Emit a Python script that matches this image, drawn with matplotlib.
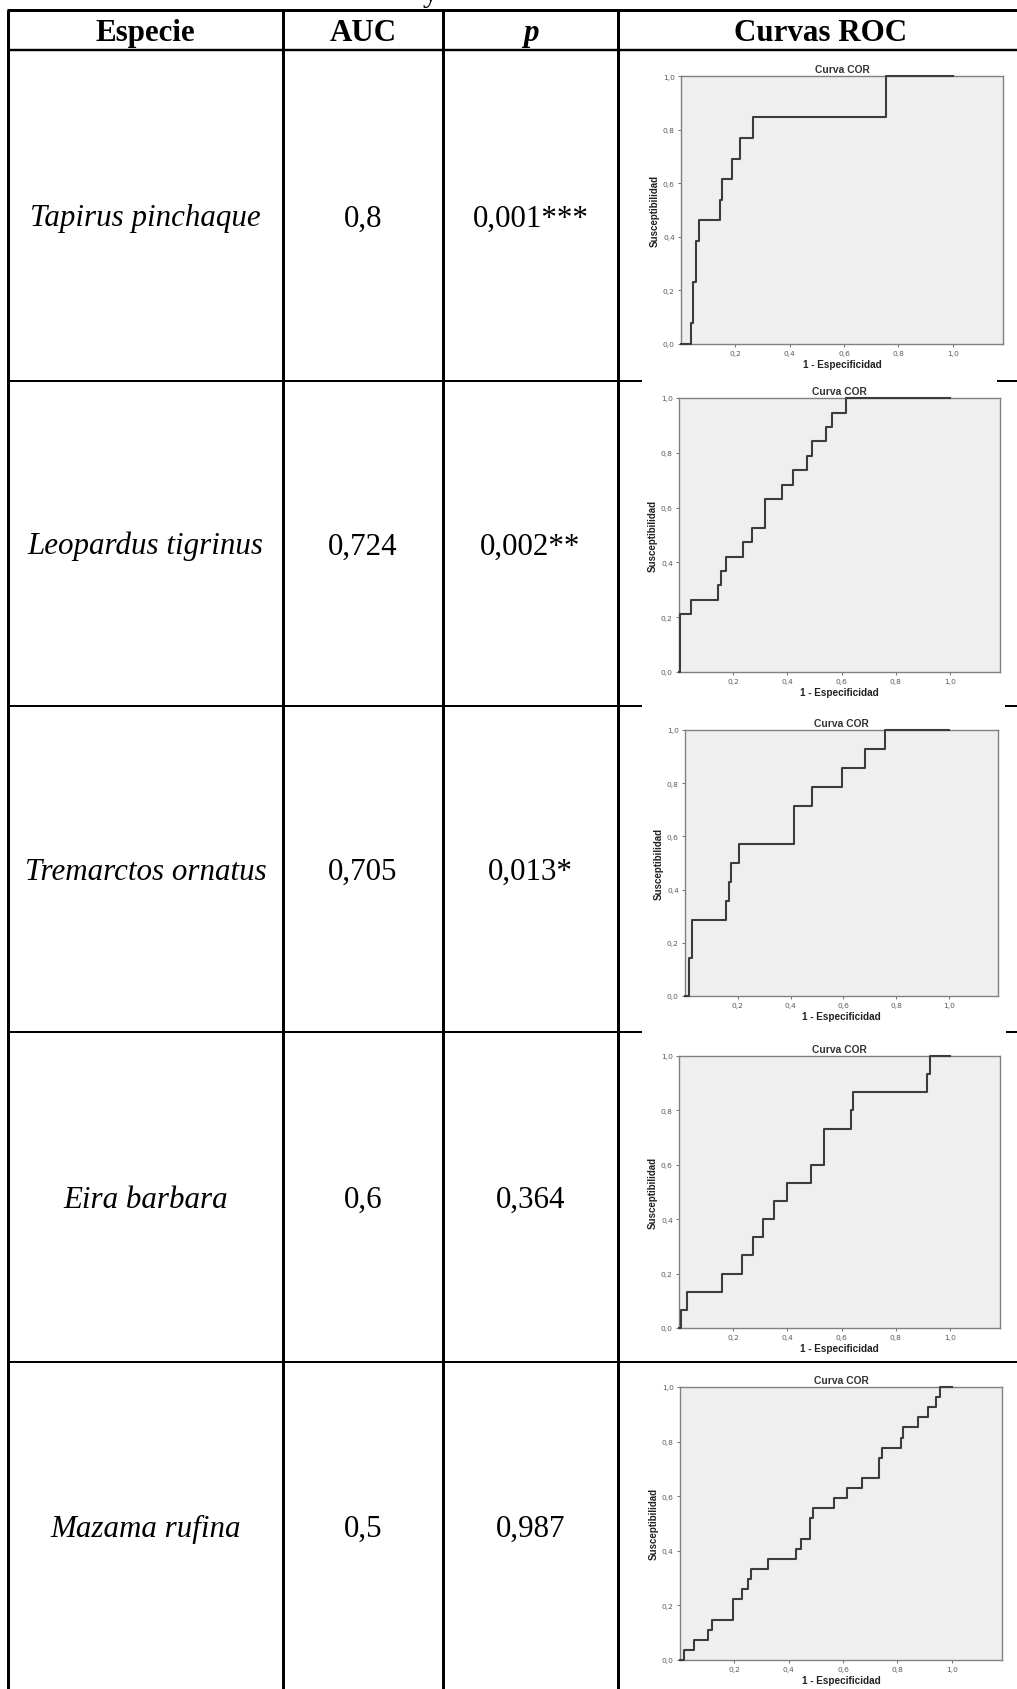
import matplotlib
matplotlib.use("Agg")
import matplotlib.pyplot as plt
from matplotlib.patches import Rectangle
from matplotlib.ticker import FuncFormatter

W, H = 1017, 1690
DPI = 100
PT = 72.0 / DPI  # pixels -> points

#  Table content
headers = ["Especie", "AUC", "p", "Curvas ROC"]
species = ["Tapirus pinchaque", "Leopardus tigrinus", "Tremarctos ornatus",
           "Eira barbara", "Mazama rufina"]
auc_values = ["0,8", "0,724", "0,705", "0,6", "0,5"]
p_values = ["0,001***", "0,002**", "0,013*", "0,364", "0,987"]

#  ROC curves (1 - especificidad, susceptibilidad)
fpr_tapirus = [0, 0.0375, 0.046, 0.056, 0.067, 0.142, 0.151, 0.188, 0.216, 0.265, 0.756, 1.0]
tpr_tapirus = [0, 0.077, 0.231, 0.385, 0.462, 0.538, 0.615, 0.692, 0.769, 0.846, 1.0, 1.0]

fpr_leopardus = [0, 0.005, 0.043, 0.145, 0.154, 0.175, 0.237, 0.271, 0.317, 0.381,
                 0.422, 0.471, 0.492, 0.541, 0.563, 0.615, 1.0]
tpr_leopardus = [0, 0.211, 0.263, 0.316, 0.368, 0.421, 0.474, 0.526, 0.632, 0.684,
                 0.737, 0.789, 0.842, 0.895, 0.947, 1.0, 1.0]

fpr_tremarctos = [0, 0.015, 0.028, 0.155, 0.165, 0.175, 0.203, 0.411, 0.481, 0.594, 0.681, 0.759, 1.0]
tpr_tremarctos = [0, 0.143, 0.286, 0.357, 0.429, 0.5, 0.571, 0.714, 0.786, 0.857, 0.929, 1.0, 1.0]

fpr_eira = [0, 0.007, 0.028, 0.157, 0.234, 0.274, 0.311, 0.35, 0.397, 0.487, 0.536,
            0.634, 0.643, 0.916, 0.926, 1.0]
tpr_eira = [0, 0.067, 0.133, 0.2, 0.267, 0.333, 0.4, 0.467, 0.533, 0.6, 0.733,
            0.8, 0.867, 0.933, 1.0, 1.0]

fpr_mazama = [0, 0.014, 0.051, 0.104, 0.116, 0.194, 0.227, 0.249, 0.262, 0.323, 0.426,
              0.446, 0.479, 0.491, 0.568, 0.615, 0.668, 0.732, 0.745, 0.812, 0.822,
              0.876, 0.911, 0.942, 0.957, 1.0]
tpr_mazama = [0, 0.037, 0.074, 0.111, 0.148, 0.222, 0.259, 0.296, 0.333, 0.37, 0.407,
              0.444, 0.519, 0.556, 0.593, 0.63, 0.667, 0.741, 0.778, 0.815, 0.852,
              0.889, 0.926, 0.963, 1.0, 1.0]

roc_curves = [(fpr_tapirus, tpr_tapirus), (fpr_leopardus, tpr_leopardus),
              (fpr_tremarctos, tpr_tremarctos), (fpr_eira, tpr_eira),
              (fpr_mazama, tpr_mazama)]

#  Layout (pixels)
col_edges = [8, 283, 443, 618]
row_edges = [11, 51, 381.5, 707, 1032.5, 1363]
# plot box of each ROC image: left, top, right, bottom
roc_boxes = [(681, 77, 1003, 345), (679, 399, 1000, 673), (685, 731, 998, 997),
             (679, 1057, 1000, 1329), (680, 1388, 1002, 1661)]
# white image background that hides the row rule under rows 2-4
cover_boxes = [None, (642, 376, 997, 705), (642, 700, 1005, 1028), (642, 1028, 1006, 1358), None]

serif = "Liberation Serif"
sans = "Liberation Sans"
fs_cell = 31 * PT

fig = plt.figure(figsize=(W / DPI, H / DPI), dpi=DPI)
fig.patch.set_facecolor("white")

tab = fig.add_axes([0, 0, 1, 1])
tab.set_xlim(0, W)
tab.set_ylim(H, 0)
tab.axis("off")

#  Grid of the table
thick = 3 * PT
thin = 2 * PT
tab.hlines(row_edges[0], col_edges[0] - 1, W, color="black", lw=thick)
tab.hlines(row_edges[1], col_edges[0] - 1, W, color="black", lw=thin + 0.3)
tab.hlines(row_edges[2:], col_edges[0] - 1, W, color="black", lw=thin)
tab.vlines(col_edges, row_edges[0], H, color="black", lw=thick)

for box in cover_boxes:
    if box is None:
        continue
    x0, y0, x1, y1 = box
    tab.add_patch(Rectangle((x0, y0), x1 - x0, y1 - y0, facecolor="white", edgecolor="none", zorder=3))

# cut-off caption above the table (only its descender shows, as in the source)
tab.text(430, 0.5, "y", family=serif, fontsize=fs_cell, ha="center", va="baseline")

#  Header row
col_centers = [(col_edges[i] + col_edges[i + 1]) / 2 for i in range(3)] + [821]
hy = (row_edges[0] + row_edges[1]) / 2 + 0.33 * 31
for cx, h in zip(col_centers, headers):
    tab.text(cx, hy, h, family=serif, fontsize=fs_cell, fontweight="bold",
             fontstyle="italic" if h == "p" else "normal", ha="center", va="baseline")

#  Body rows
for i in range(len(species)):
    top = row_edges[i + 1]
    bot = row_edges[i + 2] if i + 2 < len(row_edges) else row_edges[i + 1] + 327
    by = (top + bot) / 2 + 0.33 * 31
    tab.text(col_centers[0], by, species[i], family=serif, fontsize=fs_cell,
             fontstyle="italic", ha="center", va="baseline")
    tab.text(col_centers[1], by, auc_values[i], family=serif, fontsize=fs_cell,
             ha="center", va="baseline")
    tab.text(col_centers[2], by, p_values[i], family=serif, fontsize=fs_cell,
             ha="center", va="baseline")

#  ROC panels
comma = FuncFormatter(lambda v, _: f"{v:.1f}".replace(".", ","))
for (fpr, tpr), (l, t, r, b) in zip(roc_curves, roc_boxes):
    ax = fig.add_axes([l / W, 1 - b / H, (r - l) / W, (b - t) / H])
    ax.set_facecolor("#efefef")
    ax.step(fpr, tpr, where="post", color="#3c3c3c", lw=1.5, zorder=3, clip_on=False)
    ax.set_xlim(0, 1.185)
    ax.set_ylim(0, 1)
    ax.set_xticks([0.2, 0.4, 0.6, 0.8, 1.0])
    ax.set_yticks([0, 0.2, 0.4, 0.6, 0.8, 1.0])
    ax.xaxis.set_major_formatter(comma)
    ax.yaxis.set_major_formatter(comma)
    ax.tick_params(labelsize=5.4, colors="#5a5a5a", length=2.5, width=0.6, pad=2)
    for s in ax.spines.values():
        s.set_color("#808080")
        s.set_linewidth(1.0)
    ax.set_title("Curva COR", family=sans, fontsize=7.4, fontweight="bold",
                 color="#333333", pad=3)
    ax.set_xlabel("1 - Especificidad", family=sans, fontsize=7.2, fontweight="bold",
                  color="#222222", labelpad=2)
    ax.set_ylabel("Susceptibilidad", family=sans, fontsize=7, fontweight="bold",
                  color="#222222", labelpad=2)

fig.savefig("out.png", dpi=DPI, facecolor="white")
